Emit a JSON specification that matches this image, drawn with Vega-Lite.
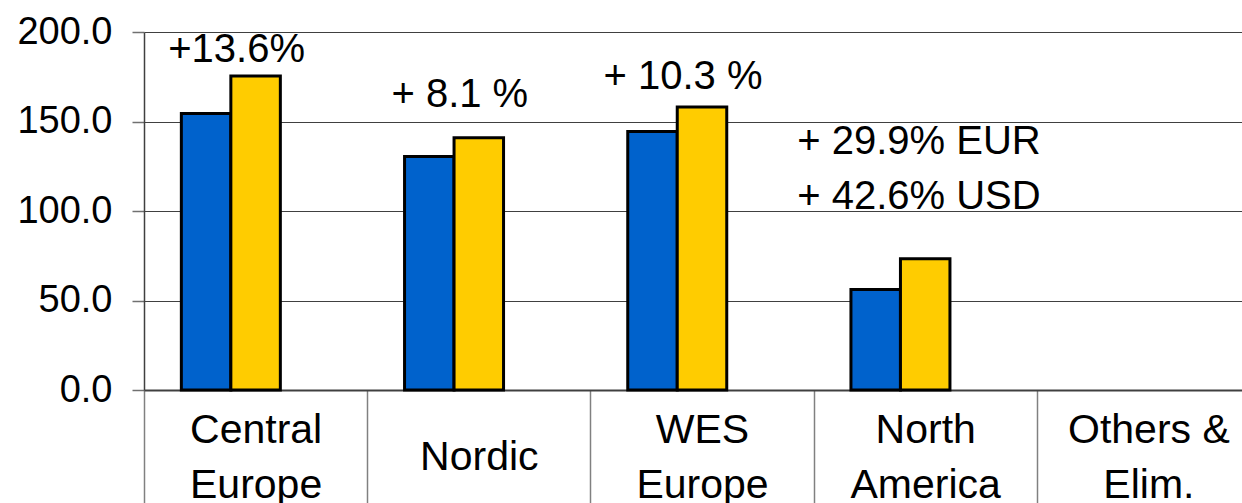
{
  "$schema": "https://vega.github.io/schema/vega-lite/v6.json",
  "width": 1098,
  "height": 358,
  "autosize": {"type": "none"},
  "padding": {"left": 144, "top": 32, "right": 0, "bottom": 113},
  "background": "white",
  "config": {
    "view": {"stroke": null},
    "font": "Liberation Sans",
    "text": {"font": "Liberation Sans"}
  },
  "datasets": {
    "sales": [
      {"region": "Central Europe", "period": "previous", "sales": 154.5},
      {"region": "Central Europe", "period": "current", "sales": 175.4},
      {"region": "Nordic", "period": "previous", "sales": 130.4},
      {"region": "Nordic", "period": "current", "sales": 140.9},
      {"region": "WES Europe", "period": "previous", "sales": 144.4},
      {"region": "WES Europe", "period": "current", "sales": 158.1},
      {"region": "North America", "period": "previous", "sales": 56.1},
      {"region": "North America", "period": "current", "sales": 73.3}
    ],
    "growth": [
      {"region": "Central Europe", "label": "+13.6%", "anchor": 183.2},
      {"region": "Nordic", "label": "+ 8.1 %", "anchor": 158.3},
      {"region": "WES Europe", "label": "+ 10.3 %", "anchor": 168.2}
    ],
    "growthNA": [
      {"region": "North America", "label": "+ 29.9% EUR", "anchor": 131.8},
      {"region": "North America", "label": "+ 42.6% USD", "anchor": 101.1}
    ]
  },
  "encoding": {
    "x": {
      "field": "region",
      "type": "nominal",
      "sort": ["Central Europe", "Nordic", "WES Europe", "North America", "Others & Elim."],
      "scale": {
        "domain": ["Central Europe", "Nordic", "WES Europe", "North America", "Others & Elim."],
        "range": [0, 1116],
        "paddingInner": 0,
        "paddingOuter": 0
      },
      "axis": {
        "title": null,
        "labelAngle": 0,
        "labelFont": "Liberation Sans",
        "labelFontSize": 41,
        "labelColor": "black",
        "labelLineHeight": 55,
        "labelBaseline": "alphabetic",
        "labelPadding": {"condition": {"test": "datum.value == 'Nordic'", "value": -34}, "value": -61},
        "labelExpr": "datum.label == 'Others & Elim.' ? ['Others &', 'Elim.'] : split(datum.label, ' ')",
        "labelOverlap": false,
        "labelBound": false,
        "labelFlush": false,
        "tickBand": "extent",
        "tickSize": 113,
        "tickColor": "#808080",
        "tickWidth": 1.5,
        "domainColor": "#404040",
        "domainWidth": 2,
        "grid": false
      }
    }
  },
  "layer": [
    {
      "data": {"name": "sales"},
      "mark": {"type": "bar", "stroke": "black", "strokeWidth": 3},
      "encoding": {
        "xOffset": {
          "field": "period",
          "type": "nominal",
          "scale": {"domain": ["previous", "current", "reserved"], "paddingInner": 0, "paddingOuter": 0.7545}
        },
        "y": {
          "field": "sales",
          "type": "quantitative",
          "scale": {"domain": [0, 200], "nice": false},
          "axis": {
            "title": null,
            "values": [0, 50, 100, 150, 200],
            "format": ".1f",
            "labelFont": "Liberation Sans",
            "labelFontSize": 38,
            "labelColor": "black",
            "labelPadding": 20,
            "tickSize": 12,
            "tickColor": "#707070",
            "tickWidth": 1.5,
            "domainColor": "#404040",
            "domainWidth": 1.5,
            "gridColor": "#404040",
            "gridWidth": 1.2
          }
        },
        "color": {
          "field": "period",
          "type": "nominal",
          "scale": {"domain": ["previous", "current"], "range": ["#0062CC", "#FFCC00"]},
          "legend": null
        }
      }
    },
    {
      "mark": {"type": "rule", "color": "#9a9a9a", "strokeWidth": 2.5},
      "encoding": {"y": {"datum": 200}}
    },
    {
      "data": {"name": "growth"},
      "mark": {"type": "text", "align": "center", "baseline": "alphabetic", "dx": -19, "fontSize": 40, "font": "Liberation Sans", "color": "black"},
      "encoding": {
        "y": {"field": "anchor", "type": "quantitative"},
        "text": {"field": "label"}
      }
    },
    {
      "data": {"name": "growthNA"},
      "mark": {"type": "text", "align": "left", "baseline": "alphabetic", "dx": -128, "fontSize": 40, "font": "Liberation Sans", "color": "black"},
      "encoding": {
        "y": {"field": "anchor", "type": "quantitative"},
        "text": {"field": "label"}
      }
    }
  ]
}
